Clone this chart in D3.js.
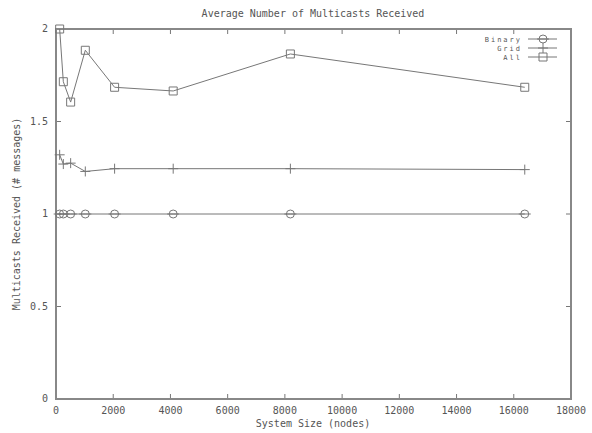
<!DOCTYPE html>
<html>
<head>
<meta charset="utf-8">
<script src="https://cdn.jsdelivr.net/npm/d3@7"></script>
<style>
  body { margin: 0; background: #fff; }
  text { font-family: "DejaVu Sans Mono", monospace; font-size: 10px; fill: #555; }
  text.leg { font-size: 7px; letter-spacing: 2px; }
</style>
</head>
<body>
<svg width="592" height="433"></svg>
<script>
// data
var sizes = [128, 256, 512, 1024, 2048, 4096, 8192, 16384];
var binary = [1, 1, 1, 1, 1, 1, 1, 1];
var grid = [1.32, 1.27, 1.275, 1.23, 1.245, 1.245, 1.245, 1.24];
var all = [2.0, 1.715, 1.605, 1.885, 1.685, 1.665, 1.865, 1.685];
var xTicks = [0, 2000, 4000, 6000, 8000, 10000, 12000, 14000, 16000, 18000];
var yTicks = [0, 0.5, 1, 1.5, 2];
var seriesNames = ["Binary", "Grid", "All"];

// plot box
var margin = {top: 29, right: 21, bottom: 34, left: 56},
    width = 592 - margin.left - margin.right,
    height = 433 - margin.top - margin.bottom;

var svg = d3.select("svg");
var g = svg.append("g")
    .attr("transform", "translate(" + margin.left + "," + margin.top + ")");

var x = d3.scaleLinear().domain([0, 18000]).range([0, width]),
    y = d3.scaleLinear().domain([0, 2]).range([height, 0]);

var ink = "#777";

// ticks on all four sides, pointing in
g.selectAll(".xt").data(xTicks).enter().append("path")
    .attr("d", function(d) { return "M" + x(d) + "," + height + "v-5M" + x(d) + ",0v5"; })
    .attr("stroke", ink);
g.selectAll(".yt").data(yTicks).enter().append("path")
    .attr("d", function(d) { return "M0," + y(d) + "h5M" + width + "," + y(d) + "h-5"; })
    .attr("stroke", ink);

// tick labels
g.selectAll(".xl").data(xTicks).enter().append("text")
    .attr("x", function(d) { return x(d); })
    .attr("y", height + 15)
    .attr("text-anchor", "middle")
    .text(function(d) { return d; });
g.selectAll(".yl").data(yTicks).enter().append("text")
    .attr("x", -8)
    .attr("y", function(d) { return y(d) + 3; })
    .attr("text-anchor", "end")
    .text(function(d) { return d; });

// frame
g.append("rect")
    .attr("width", width).attr("height", height)
    .attr("fill", "none").attr("stroke", "#888").attr("stroke-width", 2);

// titles
svg.append("text")
    .attr("x", 313).attr("y", 17)
    .attr("text-anchor", "middle")
    .text("Average Number of Multicasts Received");
svg.append("text")
    .attr("x", 313).attr("y", 427)
    .attr("text-anchor", "middle")
    .text("System Size (nodes)");
svg.append("text")
    .attr("transform", "translate(20," + (margin.top + height / 2) + ") rotate(-90)")
    .attr("text-anchor", "middle")
    .text("Multicasts Received (# messages)");

var line = d3.line()
    .x(function(d) { return x(d[0]); })
    .y(function(d) { return y(d[1]); });

function marker(sel, kind) {
  sel.append("path")
    .attr("fill", "none")
    .attr("stroke", ink)
    .attr("d", function() {
      if (kind == 0) return "M-4,0a4,4 0 1,0 8,0a4,4 0 1,0 -8,0M-6,0h12";
      if (kind == 1) return "M-5,0h10M0,-5v10";
      return "M-4,-4h8v8h-8z";
    });
}

var series = [binary, grid, all];
series.forEach(function(vals, i) {
  var pts = sizes.map(function(s, j) { return [s, vals[j]]; });
  g.append("path")
      .datum(pts)
      .attr("fill", "none")
      .attr("stroke", ink)
      .attr("d", line);
  pts.forEach(function(p) {
    var m = g.append("g").attr("transform", "translate(" + x(p[0]) + "," + y(p[1]) + ")");
    marker(m, i);
  });

  // legend
  var ly = 39 + i * 9 - margin.top;
  g.append("text")
      .attr("class", "leg")
      .attr("x", 522 - margin.left).attr("y", ly + 3)
      .attr("text-anchor", "end")
      .text(seriesNames[i]);
  g.append("path")
      .attr("d", "M" + (528 - margin.left) + "," + ly + "h29")
      .attr("stroke", ink);
  var lm = g.append("g").attr("transform", "translate(" + (543 - margin.left) + "," + ly + ")");
  marker(lm, i);
});
</script>
</body>
</html>
